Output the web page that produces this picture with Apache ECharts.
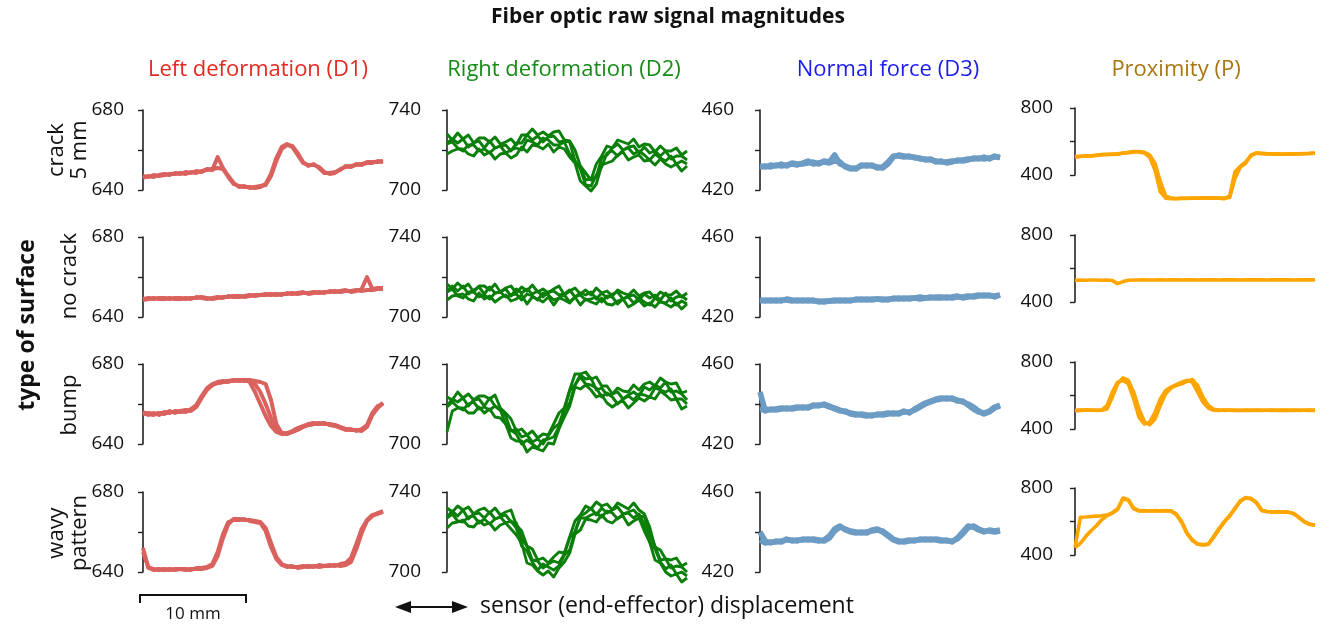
<!DOCTYPE html>
<html>
<head>
<meta charset="utf-8">
<script src="https://cdn.jsdelivr.net/npm/echarts@6/dist/echarts.min.js"></script>
<style>
  html, body { margin: 0; padding: 0; background: #fff; }
  #chart { width: 1323px; height: 624px; }
</style>
</head>
<body>
<div id="chart"></div>
<script>
// displacement in mm along the scan (shared by all traces)
const xs = [0,0.5,1,1.5,2,2.5,3,3.5,4,4.5,5,5.5,6,6.5,7,7.5,8,8.5,9,9.5,10,10.5,11,11.5,12,12.5,13,13.5,14,14.5,15,15.5,16,16.5,17,17.5,18,18.5,19,19.5,20,20.5,21,21.5,22,22.5];

// ---- Left deformation (D1)
const d1CrackA = [647,646.5,647.5,647,647.5,648,648,648.5,648,649,648.5,649.5,650,650.5,651,650.5,646.5,643,642,641.5,641.5,641,641.5,643,648,656,661.5,663,661.5,657.5,653.5,652.5,652.5,651.5,649,648,648.5,650.5,651.5,652,652.5,653,653.5,653.5,654.5,654];
const d1CrackB = [646,647,646.5,647.5,648,647.5,648.5,648,649,648.5,649.5,649,650.5,650,656.5,651,647,643.5,641.5,642,641,641.5,642,642.5,647,654.5,660.5,662.5,662,658.5,654,652,653,651,648.5,648.5,649,650,652,651.5,653,652.5,654,654,654,654.5];
const d1FlatA = [649,649.5,649,649.5,649.5,649,649.5,649.5,649,649.5,649.5,650,649.5,649,649.5,650,650,650.5,650.5,650,650.5,651,651,651,651.5,651,651.5,651.5,652,651.5,652,652,652.5,652,652.5,652.5,653,652.5,653,653,653.5,653,653.5,653.5,654,654];
const d1FlatB = [648.5,649,649.5,649,649,649.5,649,649,649.5,649,650,649.5,649,649.5,650,649.5,650.5,650,650,650.5,651,650.5,651,651.5,651,651.5,651,652,651.5,652,652.5,651.5,652,652.5,652,653,652.5,653,653.5,652.5,653,654,660,654,654.5,654.5];
const d1BumpA = [655.5,654.5,655.5,654.5,656,655.5,656.5,656,656.5,657,659,663.5,667.5,669.5,670.5,671,671.5,671.5,672,672,672,671.5,671,670,662,650,645.5,645,646,647.5,648.5,649.5,650,650.5,650,650,649.5,648.5,647.5,647,647,647,649,655,658.5,660.5];
const d1BumpB = [656,655,654.5,655.5,655,656.5,655.5,656.5,656,657.5,659.5,664,668,670,671,671.5,671,672,671.5,672,671,666,660,654,649,646,645,645.5,646.5,648,649,650,650.5,650,650.5,649.5,649,648,647,647.5,646.5,647.5,649.5,655.5,659,660];
const d1BumpC = [655,655.5,655,655.5,655.5,656,656,656.5,657,656.5,658.5,663,667,669.5,670.5,671,671.5,672,672,671.5,672,670,666,660,653,646.5,645.5,645,646,647,648.5,649.5,650,650,650.5,649.5,649.5,648.5,647.5,647,647,646.5,648.5,654.5,658,660.5];
const d1WavyA = [652,642,641,641.5,641,641.5,641,641.5,641,641.5,641.5,641.5,642,643,648,657,664,666.5,666.5,666,666,665.5,665,662,654.5,647.5,644,643,642.5,642.5,643,642.5,643,642.5,643,643,643.5,643,643.5,645,651.5,659.5,665.5,668,669.5,670.5];
const d1WavyB = [650,642.5,641.5,641,641.5,641,641.5,641.5,641.5,641,642,642,642.5,644,650,659,665,666,666,666.5,665.5,665,664.5,660.5,652.5,646.5,643.5,642.5,643,642,642.5,643,642.5,643.5,643,643.5,643,644,644.5,647,654,661.5,666,668.5,669,670];

// ---- Right deformation (D2), four traces per surface
const d2Crack1 = [728,725,728.5,725.5,727.5,723.5,726,726,724,726.5,723,724,725.5,722.5,727.5,727.5,730.5,727.5,729,727,729,729.5,725,724.5,720,712,708.5,705,713,717,722,721,725,724,723,725.5,721.5,723,722.5,719,722,719.5,719.5,721,717.5,719.5];
const d2Crack2 = [723.5,725.5,723.5,725.5,721.5,723.5,724.5,721,724.5,721,722,722.5,719.5,723.5,723.5,727.5,725,727,724,726.5,727,724,724.5,724,714.5,711.5,705,705.5,706.5,716,717.5,721,723,720,721.5,722,718.5,721.5,718.5,719.5,717,719.5,715.5,717,717,715];
const d2Crack3 = [723,724,721,719.5,722.5,722.5,719.5,720.5,718.5,721,722,718.5,720,721,720,725,724,722.5,726,725,722.5,722.5,724,718,714.5,710.5,702.5,702,707.5,711.5,718.5,719.5,717,720,721,718,719.5,717.5,715,718,716,714.5,717,713,714.5,713];
const d2Crack4 = [718,719.5,720.5,720.5,718,717,720.5,717.5,719,715.5,718,718.5,716,717.5,721.5,719,722.5,722,720.5,723,719,721.5,720.5,716.5,713.5,704.5,702,699.5,703,712.5,713.5,714.5,717.5,719,715,716.5,717.5,714.5,715,712.5,715.5,713,711.5,713,709.5,712];
const d2Flat1 = [716.5,714,717,714.5,716.5,712.5,715.5,715.5,713.5,716.5,712.5,714.5,715.5,712,715,713,716,712.5,714,712,714,715.5,711,713,714.5,711.5,713.5,711,714.5,712,713,710.5,713.5,712,711,713.5,710.5,712,712.5,709.5,712.5,711,711,713,710,712];
const d2Flat2 = [713,715.5,713,715.5,711.5,713.5,715,711.5,715,712,712.5,714,710.5,714,712,714,711.5,713,710,712.5,713,711,711.5,713.5,710,712,711,712.5,709,712,709.5,711.5,712.5,709,710.5,711,708.5,711.5,709.5,711,708.5,712,708,710,710.5,708.5];
const d2Flat3 = [712.5,714,710.5,709.5,712.5,712.5,710,711,709,712,712.5,710,711,711.5,708.5,711.5,710.5,708.5,712,711,708.5,709.5,711,707.5,710,711,708.5,709,710,707.5,710.5,710,706.5,709,710,707,709.5,707.5,706,709.5,707.5,707,709.5,706,708,706.5];
const d2Flat4 = [708.5,710.5,711,711.5,709,708,712,709,710.5,707.5,709.5,711,708,709,711,706.5,710,709,707.5,710,706,709.5,708.5,707,710,706,709,707.5,706.5,709.5,706.5,706,708,709,705,706.5,708.5,705.5,707,705,708,706.5,705,707,704,706.5];
const d2Bump1 = [723.5,722,726,723,725,722,724,724,722.5,724.5,718,715.5,712.5,706.5,707.5,704.5,706.5,703,705,704.5,710,715.5,718,727,735,735,736,732.5,733.5,729,729,725,728,726.5,726,729.5,727,730,731,729,733,731,730,730.5,725.5,726.5];
const d2Bump2 = [719,722.5,721,723,719,722,722.5,719,723,719,717,714,706.5,707.5,703.5,704.5,701,702.5,700,704,708,710,717.5,726.5,729.5,734.5,732.5,733,727,728,724.5,725,726,722.5,724.5,726,724,728.5,727,729.5,728,731,726,726.5,725,722];
const d2Bump3 = [718.5,721,718.5,717,720,721,717.5,718.5,717,719,717,710,707,705,700,702,700,698,702,702.5,703.5,708.5,717,720.5,729.5,733.5,730,729.5,728,723.5,725.5,723.5,720,722.5,724,722,725,724.5,723.5,728,727,726,727.5,722.5,722.5,720];
const d2Bump4 = [706,716.5,718,718,715.5,715.5,718.5,715.5,717.5,713.5,713,710,703,701.5,701.5,696,698.5,697.5,696.5,700.5,700,707.5,713.5,719,728.5,727.5,729.5,727,723.5,724.5,720.5,718.5,720.5,721.5,718,720.5,723,721.5,723.5,722.5,726.5,724.5,722,722.5,717.5,719];
const d2Wavy1 = [732,730,733,731,732.5,729,731,732,729.5,732,728.5,730,731,723.5,720.5,713,711.5,706,707,704.5,707.5,710,709.5,717.5,725.5,728.5,733,731.5,735,733,734,731,734.5,733,731.5,734.5,731,729,722.5,712.5,711,706.5,706,707,703,704.5];
const d2Wavy2 = [727.5,730.5,728,731,726.5,729,729.5,727,730,726.5,727.5,728.5,725,724.5,716.5,713,706,705.5,702,704,705.5,704.5,709,717,720,728,729.5,732,728.5,732,729.5,731,732.5,729,730,731,728,727.5,718.5,713,706,706.5,702,703,702.5,700];
const d2Wavy3 = [727,729,725.5,725,727.5,728,724.5,726.5,724,726.5,727.5,724.5,725.5,722,713,710.5,705,701,704,702.5,701,703,708.5,711,720,727,727,728.5,729.5,727.5,730.5,729.5,726.5,729,729.5,727,729,723.5,715,711.5,705,701.5,703.5,699,700,698];
const d2Wavy4 = [722,724.5,725,726,723,722.5,725.5,723.5,724.5,721,723.5,724.5,721.5,718.5,714.5,704.5,703.5,700.5,698.5,700.5,697.5,702,705,709.5,719,721,726.5,726,725,728.5,725.5,724.5,727,728,723.5,725.5,727,720.5,715,706,704.5,700,698,699,695,697];

// ---- Normal force (D3)
const d3CrackA = [431.5,432,431.5,432.5,432,432.5,433,432.5,433.5,434.5,433,433.5,434,433.5,434.5,434,431.5,430.5,431,432,432.5,432,431.5,431,433,436.5,437.5,437,436.5,436.5,435.5,435.5,435,434.5,434,434,434.5,434.5,435,435.5,435.5,436,435.5,436,436.5,436.5];
const d3CrackB = [432,431.5,432.5,432,433,432,433.5,433,433,433.5,434,433,434.5,434,437.5,433,432,431,430.5,432.5,432,432.5,431,431.5,434,437,437,436.5,437,436,436,435,435.5,434,434.5,433.5,434,435,434.5,435,436,435.5,436.5,435.5,437,436];
const d3FlatA = [428.5,428,428.5,428,428.5,428.5,428,428.5,428,428.5,428,428,427.5,428,428,428.5,428,428.5,428.5,429,428.5,429,429,428.5,429,429,429.5,429,429.5,429.5,429,429.5,430,429.5,429.5,430,429.5,430,430,430.5,430,430.5,431,430.5,430.5,431];
const d3FlatB = [428,428.5,428,428.5,428,429,428.5,428,428.5,428,428.5,427.5,428,428,428.5,428,428.5,428,429,428.5,429,428.5,429,429,428.5,429.5,429,429.5,429,429.5,430,429.5,429.5,430,430,429.5,430,430.5,429.5,430,430.5,431,430.5,431,430,431];
const d3BumpA = [437,437.5,437,437.5,438,437.5,438,438.5,438,438.5,439,439.5,439.5,438.5,438,437,436,435.5,435,434.5,434,434.5,434.5,435,435.5,435,435.5,436,436,437,438.5,440,441,442,442.5,443,442.5,442,441,440,438.5,436.5,435,436,438,439];
const d3BumpB = [446,436.5,437.5,437,437.5,438,437.5,438,438.5,438,439.5,439,440,439,437.5,436.5,436.5,435,434.5,435,434.5,434,435,434.5,435,435.5,435,436.5,435.5,437.5,439,440.5,441.5,442.5,443,442.5,443,441.5,441.5,439.5,437.5,436,435.5,436.5,438.5,439.5];
const d3WavyA = [436,434.5,435,435,435.5,436,436,435.5,436.5,436,436.5,436,435.5,437,440.5,442.5,441.5,440.5,440,439.5,440,440.5,441,440.5,438.5,436.5,435.5,435,435.5,436,436,436.5,436,436.5,436,435.5,435.5,436.5,439,442,443,441.5,440.5,440.5,440,440.5];
const d3WavyB = [440,435.5,434.5,435.5,435,436.5,435.5,436,436,436.5,436,435.5,436,438,441.5,443,441,440,439.5,440,439.5,441,441.5,440,438,436,435,435.5,436,435.5,436.5,436,436.5,436,435.5,436,435,437,440,443,442.5,441,440,441,440.5,441];

// ---- Proximity (P)
const pCrackA = [510,512,512,515,518,520,524,522,526,530,535,540,538,532,505,430,300,262,258,258,260,260,261,261,262,262,262,262,262,266,380,448,470,520,530,528,526,525,526,524,525,526,526,527,528,530];
const pCrackB = [505,510,514,513,517,522,522,525,524,532,533,538,540,535,520,470,360,275,262,260,262,261,262,263,262,263,263,262,258,275,420,452,478,515,532,529,527,526,524,525,526,525,527,528,529,531];
const pFlat = [530,531,530,531,531,530,531,528,510,522,530,531,531,532,531,531,532,531,532,532,531,532,532,531,532,532,532,531,532,532,532,531,532,532,532,532,531,532,532,532,532,531,532,532,532,532];
const pBumpA = [512,513,514,512,512,513,540,620,680,690,670,580,470,430,440,500,580,630,650,665,680,690,680,620,560,525,512,511,513,512,511,512,513,512,511,512,512,511,512,513,512,511,512,512,511,512];
const pBumpB = [508,511,512,513,511,512,520,590,670,705,690,620,520,445,425,460,540,610,645,660,670,685,695,660,590,540,518,513,511,513,512,510,512,511,513,511,512,513,511,512,511,513,511,512,513,511];
const pWavyA = [445,470,510,545,575,610,635,650,672,740,730,680,665,664,664,664,664,664,664,645,600,530,490,466,462,463,510,558,600,632,680,720,743,735,715,668,658,658,658,656,656,646,625,597,585,577];
const pWavyB = [445,625,627,630,632,634,638,652,676,736,726,676,663,665,663,665,663,665,662,640,595,528,487,464,460,466,505,552,596,636,676,725,740,738,712,665,660,657,659,657,655,648,622,600,582,580];

const columns = [
  { title: 'Left deformation (D1)', titleColor: '#e32a22', color: '#d9625e', min: 640, max: 680, interval: 20, left: 143, offset: 10, width: 4,
    traces: [[d1CrackA, d1CrackB], [d1FlatA, d1FlatB], [d1BumpA, d1BumpB, d1BumpC], [d1WavyA, d1WavyB]] },
  { title: 'Right deformation (D2)', titleColor: '#178a17', color: '#0a7f0a', min: 700, max: 740, interval: 20, left: 447, offset: 17, width: 2.9,
    traces: [[d2Crack1, d2Crack2, d2Crack3, d2Crack4], [d2Flat1, d2Flat2, d2Flat3, d2Flat4], [d2Bump1, d2Bump2, d2Bump3, d2Bump4], [d2Wavy1, d2Wavy2, d2Wavy3, d2Wavy4]] },
  { title: 'Normal force (D3)', titleColor: '#1c1cf0', color: '#6c9bc4', min: 420, max: 460, interval: 20, left: 760, offset: 17, width: 5.5,
    traces: [[d3CrackA, d3CrackB], [d3FlatA, d3FlatB], [d3BumpA, d3BumpB], [d3WavyA, d3WavyB]] },
  { title: 'Proximity (P)', titleColor: '#a9760e', color: '#ffa500', min: 400, max: 800, interval: 200, left: 1075, offset: 13, width: 3.6,
    traces: [[pCrackA, pCrackB], [pFlat], [pBumpA, pBumpB], [pWavyA, pWavyB]] }
];
const rowTops = [[110, 237, 364, 492], [110, 237, 364, 492], [110, 237, 364, 492], [108, 235, 362, 488]];
const rowHeights = [80, 80, 80, 67];

const FONT = '"Open Sans", "Liberation Sans", sans-serif';

var grid = [], xAxis = [], yAxis = [], series = [];
columns.forEach((col, c) => {
  for (let r = 0; r < 4; r++) {
    const gi = grid.length;
    grid.push({ left: col.left, top: rowTops[c][r], width: 240, height: rowHeights[c] });
    xAxis.push({ gridIndex: gi, type: 'value', min: 0, max: 22.5, show: false });
    yAxis.push({
      gridIndex: gi, type: 'value', min: col.min, max: col.max, interval: col.interval,
      offset: col.offset,
      axisLine: { show: true, lineStyle: { color: '#222', width: 1.6 } },
      axisTick: { show: true, length: 5, lineStyle: { color: '#222', width: 1.4 } },
      splitLine: { show: false },
      axisLabel: {
        margin: 9, color: '#111', fontSize: 19, fontFamily: FONT,
        formatter: v => (v === col.min || v === col.max) ? String(v) : ''
      }
    });
    col.traces[r].forEach(tr => {
      series.push({
        type: 'line', xAxisIndex: gi, yAxisIndex: gi,
        data: xs.map((x, i) => [x, tr[i]]),
        showSymbol: false, clip: false, silent: true,
        lineStyle: { color: col.color, width: col.width, join: 'round' }
      });
    });
  }
});

var graphic = [
  { type: 'text', x: 668, y: 17, style: { text: 'Fiber optic raw signal magnitudes', font: 'bold 21px ' + FONT, fill: '#111', align: 'center', verticalAlign: 'middle' } },
  { type: 'text', x: 27, y: 325, rotation: Math.PI / 2, style: { text: 'type of surface', font: 'bold 23px ' + FONT, fill: '#111', align: 'center', verticalAlign: 'middle' } },
  { type: 'text', x: 68, y: 150, rotation: Math.PI / 2, style: { text: 'crack\n5 mm', font: '22px ' + FONT, lineHeight: 23, fill: '#111', align: 'center', verticalAlign: 'middle' } },
  { type: 'text', x: 70, y: 276, rotation: Math.PI / 2, style: { text: 'no crack', font: '22px ' + FONT, fill: '#111', align: 'center', verticalAlign: 'middle' } },
  { type: 'text', x: 70, y: 405, rotation: Math.PI / 2, style: { text: 'bump', font: '22px ' + FONT, fill: '#111', align: 'center', verticalAlign: 'middle' } },
  { type: 'text', x: 68, y: 533, rotation: Math.PI / 2, style: { text: 'wavy\npattern', font: '22px ' + FONT, lineHeight: 23, fill: '#111', align: 'center', verticalAlign: 'middle' } },
  // scale bar
  { type: 'polyline', shape: { points: [[140, 603], [140, 595], [246, 595], [246, 603]] }, style: { stroke: '#111', lineWidth: 2, fill: null } },
  { type: 'text', x: 193, y: 614, style: { text: '10 mm', font: '17px ' + FONT, fill: '#111', align: 'center', verticalAlign: 'middle' } },
  // double arrow
  { type: 'line', shape: { x1: 405, y1: 607, x2: 458, y2: 607 }, style: { stroke: '#111', lineWidth: 2 } },
  { type: 'polygon', shape: { points: [[395, 607], [411, 601], [411, 613]] }, style: { fill: '#111' } },
  { type: 'polygon', shape: { points: [[468, 607], [452, 601], [452, 613]] }, style: { fill: '#111' } },
  { type: 'text', x: 480, y: 606, style: { text: 'sensor (end-effector) displacement', font: '23px ' + FONT, fill: '#111', align: 'left', verticalAlign: 'middle' } }
];
const titleCenters = [258, 564, 888, 1176];
columns.forEach((col, c) => {
  graphic.push({ type: 'text', x: titleCenters[c], y: 70, style: { text: col.title, font: '22px ' + FONT, fill: col.titleColor, align: 'center', verticalAlign: 'middle' } });
});

const chart = echarts.init(document.getElementById('chart'));
chart.setOption({
  animation: false,
  backgroundColor: '#fff',
  grid: grid,
  xAxis: xAxis,
  yAxis: yAxis,
  series: series,
  graphic: graphic
});
</script>
</body>
</html>
